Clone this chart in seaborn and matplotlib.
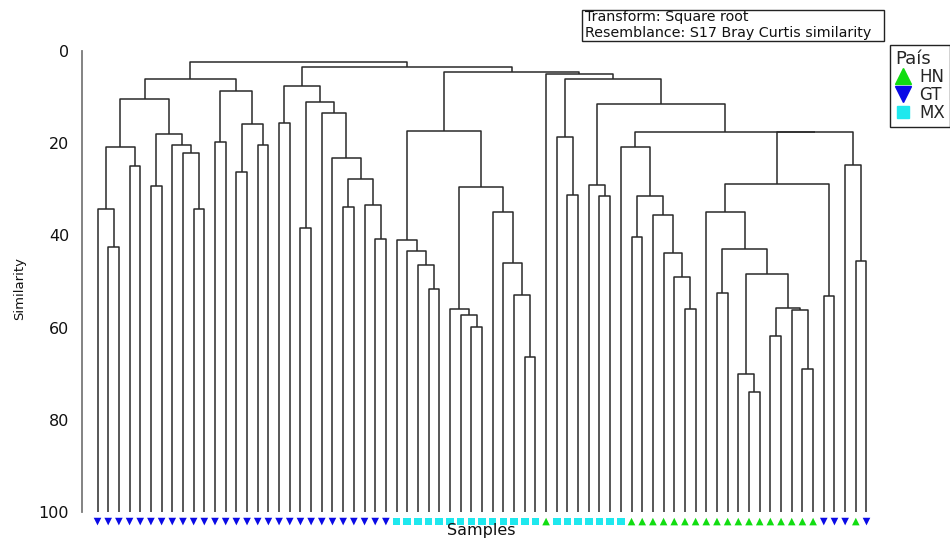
import matplotlib
matplotlib.use("Agg")
import matplotlib.pyplot as plt
from matplotlib.lines import Line2D
from matplotlib.patches import Rectangle
import seaborn as sns
import pandas as pd

# ---------------- data ----------------
# country of each sample, in dendrogram leaf order (left to right)
countries = ["GT", "GT", "GT", "GT", "GT", "GT", "GT", "GT", "GT", "GT",
             "GT", "GT", "GT", "GT", "GT", "GT", "GT", "GT", "GT", "GT",
             "GT", "GT", "GT", "GT", "GT", "GT", "GT", "GT",
             "MX", "MX", "MX", "MX", "MX", "MX", "MX", "MX", "MX", "MX",
             "MX", "MX", "MX", "MX",
             "HN",
             "MX", "MX", "MX", "MX", "MX", "MX", "MX",
             "HN", "HN", "HN", "HN", "HN", "HN", "HN", "HN", "HN", "HN",
             "HN", "HN", "HN", "HN", "HN", "HN", "HN", "HN",
             "GT", "GT", "GT", "HN", "GT"]

# clusters: (left, right, similarity at which they join); ints are leaves
A_left = ((0, (1, 2, 42.4), 34.3), (3, 4, 24.9), 20.9)
A_right = ((5, 6, 29.3), (7, (8, (9, 10, 34.3), 22.2), 20.3), 18.1)
A2 = ((11, 12, 19.8), ((13, 14, 26.2), (15, 16, 20.5), 15.9), 8.6)
group_A = ((A_left, A_right, 10.4), A2, 6.1)
group_B = ((17, 18, 15.7),
           ((19, 20, 38.3),
            (21, (22, ((23, 24, 33.9), (25, (26, 27, 40.8), 33.5), 27.8), 23.3), 13.5),
            11.0), 7.6)
group_C = ((28, (29, (30, (31, 32, 51.7), 46.5), 43.3), 41.0),
           ((33, (34, (35, 36, 59.8), 57.3), 56.0),
            (37, (38, (39, (40, 41, 66.4), 52.8), 45.9), 34.9), 29.6), 17.3)
R21 = (49, ((50, 51, 40.3), (52, (53, (54, (55, 56, 55.9), 49.1), 43.7), 35.6), 31.4), 20.8)
R43 = ((58, 59, 52.5),
       ((60, (61, 62, 73.9), 70.0), ((63, 64, 61.8), (65, (66, 67, 69.0), 56.2), 55.7), 48.4),
       42.9)
R29 = ((57, R43, 35.0), (68, 69, 53.1), 28.9)
R17b = (R29, (70, (71, 72, 45.6), 24.7), 17.6)
R17a = (R21, R17b, 17.5)
R12 = ((46, (47, 48, 31.4), 29.1), R17a, 11.6)
R6 = ((43, (44, 45, 31.2), 18.6), R12, 6.1)
R5 = (42, R6, 5.0)
R4 = (group_C, R5, 4.6)
R3 = (group_B, R4, 3.4)
root = (group_A, R3, 2.4)

yticks = [0, 20, 40, 60, 80, 100]
palette = {"HN": "#11dd11", "GT": "#0a0ae6", "MX": "#1ee8ee"}
markers = {"HN": "^", "GT": "v", "MX": "s"}

# ---------------- style ----------------
sns.set_style("white")
plt.rcParams["font.family"] = ["DejaVu Sans"]

fig = plt.figure(figsize=(9.5, 5.4), dpi=100)
ax = fig.add_axes([0.0860, 0.01704, 0.8424, 0.8974])
ax.set_xlim(-1.48, 73.45)
ax.set_ylim(104, -1)

line_kw = dict(color="#2a2a2a", lw=1.1, solid_capstyle="butt")


def draw(node):
    """Return (x, height) of node, drawing its links."""
    if isinstance(node, int):
        return float(node), 100.0
    left, right, h = node
    xl, hl = draw(left)
    xr, hr = draw(right)
    ax.plot([xl, xl, xr, xr], [hl, h, h, hr], **line_kw)
    return (xl + xr) / 2.0, h


draw(root)

# sample markers under the leaves
df = pd.DataFrame({"pos": list(range(len(countries))),
                   "y": [102.0] * len(countries),
                   "País": countries})
sns.scatterplot(data=df, x="pos", y="y", hue="País", style="País",
                palette=palette, markers=markers, s=30, linewidth=0,
                legend=False, ax=ax, clip_on=False)

# axes styling
for s in ["top", "right", "bottom"]:
    ax.spines[s].set_visible(False)
ax.spines["left"].set_bounds(0, 100)
ax.spines["left"].set_color("#7a7a7a")
ax.spines["left"].set_linewidth(1.3)
ax.set_yticks(yticks)
ax.set_yticklabels([str(t) for t in yticks])
ax.set_xticks([])
ax.tick_params(axis="y", direction="inout", length=12, width=1.2,
               color="#7a7a7a", labelsize=11.5, pad=3, labelcolor="#111111")
ax.set_xlabel("")
ax.set_ylabel("")

fig.text(481.5 / 950, 1 - 530 / 540, "Samples", ha="center", va="center",
         fontsize=11.5, color="#111111")
fig.text(20 / 950, 1 - 288 / 540, "Similarity", ha="center", va="center",
         rotation=90, fontsize=9.5, color="#111111")

# info box
fig.patches.append(Rectangle((582 / 950, 1 - 41 / 540), (884 - 582) / 950, 31 / 540,
                             transform=fig.transFigure, fill=False,
                             edgecolor="#222222", lw=1.0))
fig.text(585 / 950, 1 - 21 / 540, "Transform: Square root", ha="left",
         va="baseline", fontsize=10.3, color="#111111")
fig.text(585 / 950, 1 - 36.5 / 540, "Resemblance: S17 Bray Curtis similarity",
         ha="left", va="baseline", fontsize=10.3, color="#111111")

# legend
handles = [Line2D([], [], marker=markers[k], color=palette[k], linestyle="",
                  markersize=11 if k != "MX" else 9) for k in ["HN", "GT", "MX"]]
leg = fig.legend(handles, ["HN", "GT", "MX"], title="País", loc="upper left",
                 bbox_to_anchor=(890 / 950, 1 - 45 / 540), frameon=True,
                 fancybox=False, edgecolor="#222222", framealpha=1,
                 borderpad=0.3, borderaxespad=0, handlelength=0.9,
                 handletextpad=0.55, labelspacing=0.0, fontsize=12,
                 title_fontsize=13, alignment="left")
leg.get_frame().set_linewidth(1.0)

fig.savefig("out.png", dpi=100)
